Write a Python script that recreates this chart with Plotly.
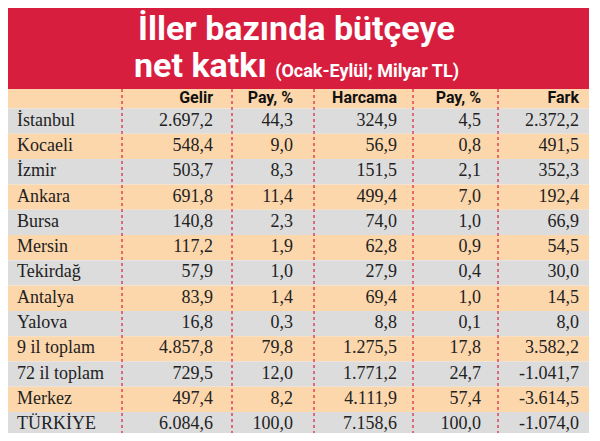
import plotly.graph_objects as go

cities = ['İstanbul', 'Kocaeli', 'İzmir', 'Ankara', 'Bursa', 'Mersin', 'Tekirdağ',
          'Antalya', 'Yalova', '9 il toplam', '72 il toplam', 'Merkez', 'TÜRKİYE']
gelir = ['2.697,2', '548,4', '503,7', '691,8', '140,8', '117,2', '57,9',
         '83,9', '16,8', '4.857,8', '729,5', '497,4', '6.084,6']
pay_gelir = ['44,3', '9,0', '8,3', '11,4', '2,3', '1,9', '1,0',
             '1,4', '0,3', '79,8', '12,0', '8,2', '100,0']
harcama = ['324,9', '56,9', '151,5', '499,4', '74,0', '62,8', '27,9',
           '69,4', '8,8', '1.275,5', '1.771,2', '4.111,9', '7.158,6']
pay_harcama = ['4,5', '0,8', '2,1', '7,0', '1,0', '0,9', '0,4',
               '1,0', '0,1', '17,8', '24,7', '57,4', '100,0']
fark = ['2.372,2', '491,5', '352,3', '192,4', '66,9', '54,5', '30,0',
        '14,5', '8,0', '3.582,2', '-1.041,7', '-3.614,5', '-1.074,0']
headers = ['Gelir', 'Pay, %', 'Harcama', 'Pay, %', 'Fark']

RED = '#d81e3f'
PEACH = '#fdd7ac'
GREY = '#dcdcdc'

# page has an 8px body margin, so the figure is sized to fit inside the window
OFF = 8
top = 108.5
step = 25.3
ys = [top + step * (i + 0.5) for i in range(len(cities))]
col_right = [213, 293, 397, 481, 579]
dividers = [122, 232, 314, 413, 498]

shapes = [dict(type='rect', xref='x', yref='y', x0=3, x1=589, y0=5, y1=89,
               fillcolor=RED, line_width=0, layer='below'),
          dict(type='rect', xref='x', yref='y', x0=3, x1=589, y0=89, y1=top,
               fillcolor=PEACH, line_width=0, layer='below')]
for i in range(len(cities)):
    shapes.append(dict(type='rect', xref='x', yref='y', x0=3, x1=589,
                       y0=top + step * i, y1=top + step * (i + 1),
                       fillcolor=GREY if i % 2 == 0 else PEACH, line_width=0, layer='below'))
for d in dividers:
    shapes.append(dict(type='line', xref='x', yref='y', x0=d, x1=d, y0=89, y1=top + step * 13,
                       line=dict(color=RED, width=1.2, dash='dot')))

fig = go.Figure()
body_font = dict(family='Liberation Serif', size=18, color='#222')
fig.add_trace(go.Scatter(x=[17] * len(cities), y=ys, text=cities, mode='text',
                         textposition='middle right', textfont=body_font,
                         hoverinfo='skip'))
for xr, col in zip(col_right, [gelir, pay_gelir, harcama, pay_harcama, fark]):
    fig.add_trace(go.Scatter(x=[xr] * len(col), y=ys, text=col, mode='text',
                             textposition='middle left', textfont=body_font,
                             hoverinfo='skip'))
fig.add_trace(go.Scatter(x=col_right, y=[99] * len(headers), text=['<b>%s</b>' % h for h in headers],
                         mode='text', textposition='middle left',
                         textfont=dict(family='Roboto', size=16, color='#111'), hoverinfo='skip'))

fig.add_annotation(x=296, y=28, xref='x', yref='y', showarrow=False,
                   text='<b>İller bazında bütçeye</b>',
                   font=dict(family='Roboto', size=34, color='white'))
fig.add_annotation(x=296, y=65, xref='x', yref='y', showarrow=False,
                   text='<b>net katkı</b> <b><span style="font-size:18px">(Ocak-Eylül; Milyar TL)</span></b>',
                   font=dict(family='Roboto', size=34, color='white'))

fig.update_layout(width=600 - 2 * OFF, height=441 - 2 * OFF, margin=dict(l=0, r=0, t=0, b=0),
                  plot_bgcolor='white', paper_bgcolor='white', showlegend=False,
                  shapes=shapes,
                  xaxis=dict(range=[OFF, 600 - OFF], visible=False, fixedrange=True),
                  yaxis=dict(range=[441 - OFF, OFF], visible=False, fixedrange=True))
fig.write_html("out.html")
